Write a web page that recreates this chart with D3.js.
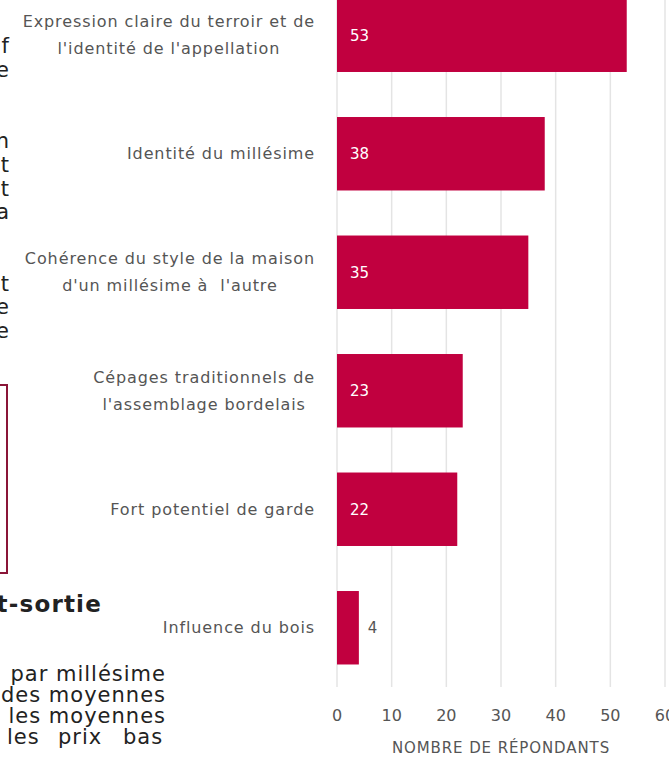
<!DOCTYPE html>
<html>
<head>
<meta charset="utf-8">
<script src="https://cdn.jsdelivr.net/npm/d3@7"></script>
<style>
  html, body { margin: 0; padding: 0; background: #fff; }
  svg { display: block; font-family: "DejaVu Sans", "Noto Sans", sans-serif; }
</style>
</head>
<body>
<div id="chart"></div>
<script>
// données du graphique
const categories = [
  "Expression claire du terroir et de|l'identité de l'appellation",
  "Identité du millésime",
  "Cohérence du style de la maison|d'un millésime à  l'autre",
  "Cépages traditionnels de|l'assemblage bordelais",
  "Fort potentiel de garde",
  "Influence du bois"
];
const values = [53, 38, 35, 23, 22, 4];
const xTicks = [0, 10, 20, 30, 40, 50, 60];
const xTitle = "NOMBRE DE RÉPONDANTS";

// fragments du texte de la page à gauche (coupés)
const leftFragments = ["f", "e", "n", "t", "t", "a", "t", "e", "e"];
const leftFragmentRow = [0, 1, 4, 5, 6, 7, 10, 11, 12];
const sideHeading = "st-sortie";
const sideLines = ["par millésime", "des moyennes", "les moyennes"];
const sideLastWords = ["les", "prix", "bas"];
const sideLastX = [7, 58, 123];

const W = 669, H = 757;
const svg = d3.select('#chart').append('svg')
  .attr('width', W)
  .attr('height', H);

const x = d3.scaleLinear().domain([0, 60]).range([337, 665]);
const y = d3.scaleBand().domain(categories).range([-24, 687])
  .paddingInner(0.38).paddingOuter(0.19);

// grille verticale
svg.append('g')
  .selectAll('line')
  .data(xTicks)
  .enter()
  .append('line')
  .attr('x1', d => x(d)).attr('x2', d => x(d))
  .attr('y1', -24).attr('y2', 687)
  .attr('stroke', '#e4e4e4')
  .attr('stroke-width', 1.5);

// barres
svg.append('g')
  .selectAll('rect')
  .data(values)
  .enter()
  .append('rect')
  .attr('x', x(0))
  .attr('y', (d, i) => y(categories[i]))
  .attr('width', d => x(d) - x(0))
  .attr('height', y.bandwidth())
  .attr('fill', '#c1003f');

// valeurs
svg.append('g')
  .selectAll('text')
  .data(values)
  .enter()
  .append('text')
  .attr('x', d => d < 8 ? x(d) + 9 : x(0) + 13)
  .attr('y', (d, i) => y(categories[i]) + y.bandwidth() / 2)
  .attr('dy', '0.35em')
  .attr('fill', d => d < 8 ? '#555' : '#fff')
  .style('font-size', '15px')
  .text(d => d);

// étiquettes des catégories (lignes centrées dans un bloc aligné à droite)
const labelRight = 315;
categories.forEach(c => {
  const lines = c.split('|');
  const cy = y(c) + y.bandwidth() / 2;
  const g = svg.append('g');
  const t = g.selectAll('text')
    .data(lines)
    .enter()
    .append('text')
    .attr('y', (d, i) => cy + (i - (lines.length - 1) / 2) * 27)
    .attr('dy', '0.35em')
    .attr('fill', '#555')
    .attr('text-anchor', 'middle')
    .style('font-size', '16px')
    .style('letter-spacing', '0.9px')
    .style('white-space', 'pre')
    .text(d => d);
  let maxW = 0;
  t.each(function() { maxW = Math.max(maxW, this.getComputedTextLength()); });
  t.attr('x', labelRight - maxW / 2);
});

// axe x
svg.append('g')
  .selectAll('text')
  .data(xTicks)
  .enter()
  .append('text')
  .attr('x', d => x(d))
  .attr('y', 715)
  .attr('dy', '0.35em')
  .attr('text-anchor', 'middle')
  .attr('fill', '#555')
  .style('font-size', '16px')
  .text(d => d);

svg.append('text')
  .attr('x', x(30))
  .attr('y', 748)
  .attr('dy', '0.35em')
  .attr('text-anchor', 'middle')
  .attr('fill', '#555')
  .style('font-size', '15px')
  .style('letter-spacing', '0.9px')
  .text(xTitle);

// texte de la page à gauche
const rowStep = 23.75;
svg.append('g')
  .selectAll('text')
  .data(leftFragments)
  .enter()
  .append('text')
  .attr('x', 9)
  .attr('y', (d, i) => 47 + leftFragmentRow[i] * rowStep + 6)
  .attr('text-anchor', 'end')
  .attr('fill', '#222')
  .style('font-size', '21px')
  .text(d => d);

svg.append('rect')
  .attr('x', -10).attr('y', 385)
  .attr('width', 17).attr('height', 188)
  .attr('fill', 'none')
  .attr('stroke', '#8a1538')
  .attr('stroke-width', 2);

svg.append('text')
  .attr('x', 102)
  .attr('y', 612)
  .attr('text-anchor', 'end')
  .attr('fill', '#222')
  .style('font-size', '23px')
  .style('font-weight', '700')
  .style('letter-spacing', '1.2px')
  .text(sideHeading);

svg.append('g')
  .selectAll('text')
  .data(sideLines)
  .enter()
  .append('text')
  .attr('x', 166)
  .attr('y', (d, i) => 675 + i * 21 + 6)
  .attr('text-anchor', 'end')
  .attr('fill', '#222')
  .style('font-size', '21px')
  .style('letter-spacing', '1px')
  .text(d => d);

svg.append('g')
  .selectAll('text')
  .data(sideLastWords)
  .enter()
  .append('text')
  .attr('x', (d, i) => sideLastX[i])
  .attr('y', 675 + 3 * 21 + 6)
  .attr('fill', '#222')
  .style('font-size', '21px')
  .style('letter-spacing', '1px')
  .text(d => d);
</script>
</body>
</html>
